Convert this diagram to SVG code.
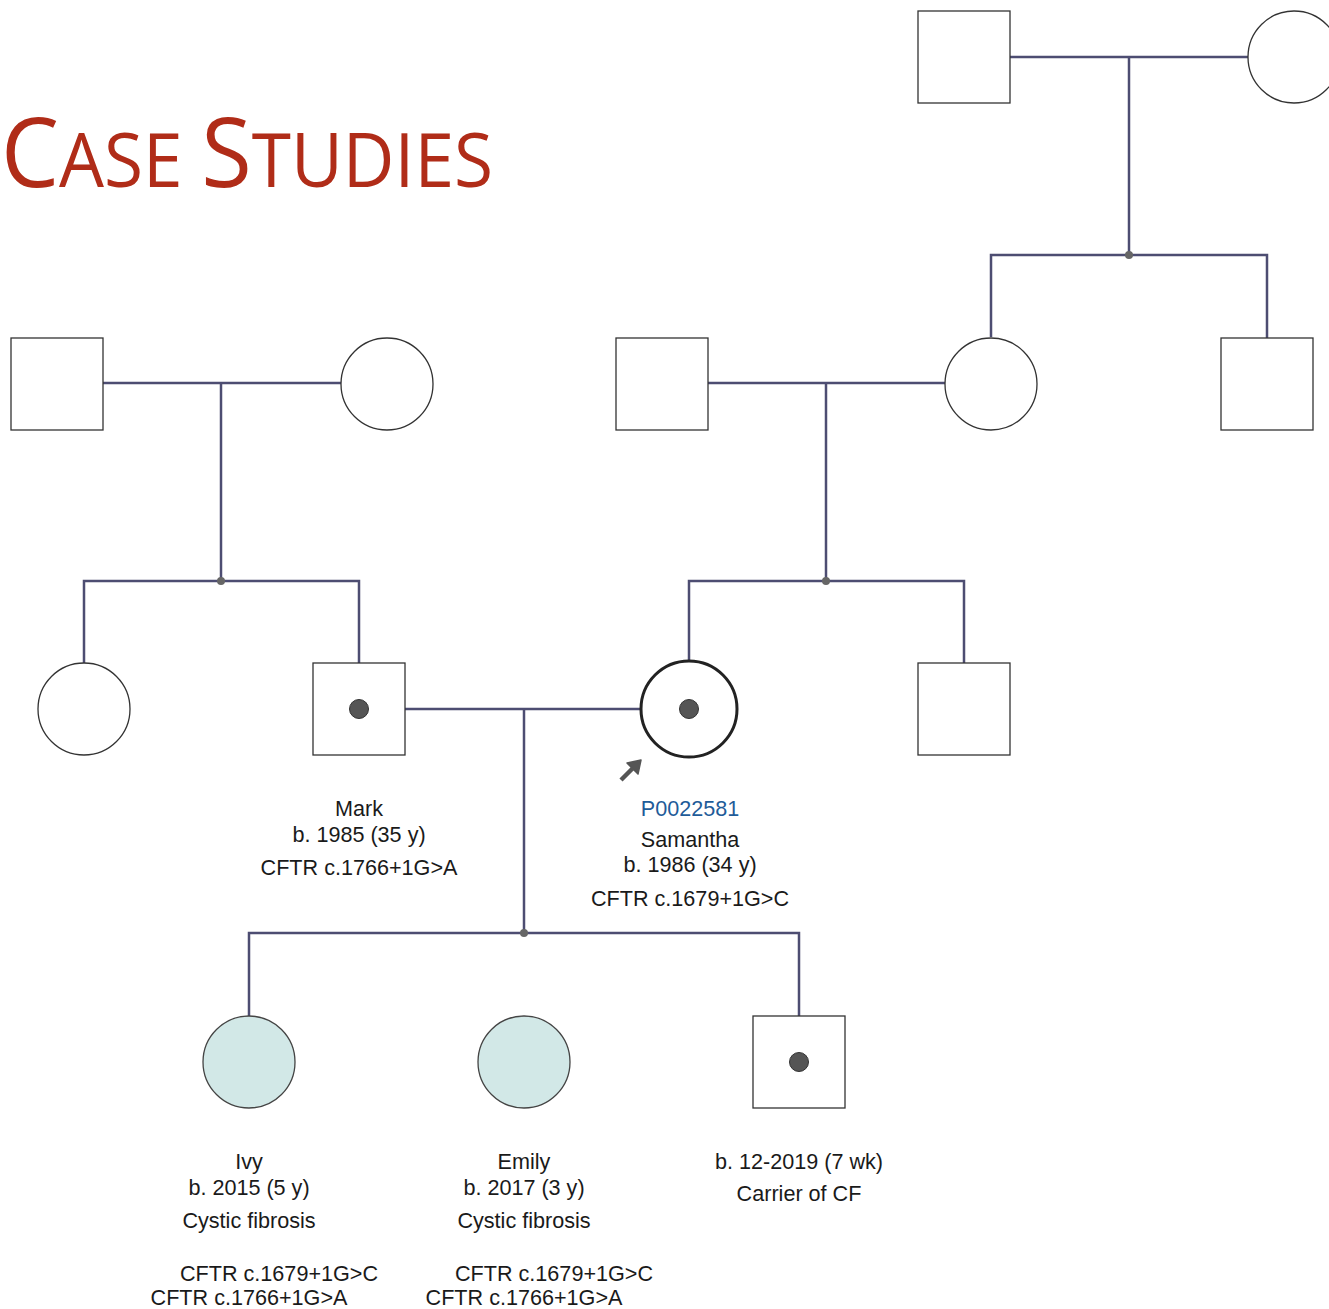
<svg xmlns="http://www.w3.org/2000/svg" width="1329" height="1309" viewBox="0 0 1329 1309">
<style>
.n{fill:#fff;stroke:#333;stroke-width:1.3}
.p{fill:#fff;stroke:#222;stroke-width:3}
.a{fill:#d2e8e7;stroke:#444;stroke-width:1.3}
.d{fill:#555;stroke:#333;stroke-width:1}
.l{fill:none;stroke:#4d4d72;stroke-width:2.5}
.j{fill:#666}
.t{font-family:"Liberation Sans",Arial,sans-serif;font-size:21.6px;fill:#1a1a1a;text-anchor:middle}
.id{fill:#1f5c99}
.title{font-family:"Open Sans","Liberation Sans",sans-serif;fill:#b02c18}
</style>
<rect width="1329" height="1309" fill="#fff"/>
<text class="title" x="1" y="187" textLength="492" lengthAdjust="spacingAndGlyphs"><tspan font-size="97">C</tspan><tspan font-size="75">ASE </tspan><tspan font-size="97">S</tspan><tspan font-size="75">TUDIES</tspan></text>
<g id="connectors">
<polyline class="l" points="1010,57 1248,57"/>
<polyline class="l" points="1129,57 1129,255"/>
<polyline class="l" points="991,337 991,255 1267,255 1267,338"/>
<polyline class="l" points="103,383 341,383"/>
<polyline class="l" points="221,383 221,581"/>
<polyline class="l" points="84,663 84,581 359,581 359,663"/>
<polyline class="l" points="708,383 945,383"/>
<polyline class="l" points="826,383 826,581"/>
<polyline class="l" points="689,661 689,581 964,581 964,663"/>
<polyline class="l" points="405,709 641,709"/>
<polyline class="l" points="524,709 524,933"/>
<polyline class="l" points="249,1016 249,933 799,933 799,1016"/>
<circle class="j" cx="1129" cy="255" r="4"/>
<circle class="j" cx="221" cy="581" r="4"/>
<circle class="j" cx="826" cy="581" r="4"/>
<circle class="j" cx="524" cy="933" r="4"/>
</g>
<g id="gp-father"><rect class="n" x="918" y="11" width="92" height="92"/></g>
<g id="gp-mother"><circle class="n" cx="1294" cy="57" r="46"/></g>
<g id="m-grandfather"><rect class="n" x="11" y="338" width="92" height="92"/></g>
<g id="m-grandmother"><circle class="n" cx="387" cy="384" r="46"/></g>
<g id="s-father"><rect class="n" x="616" y="338" width="92" height="92"/></g>
<g id="s-mother"><circle class="n" cx="991" cy="384" r="46"/></g>
<g id="s-uncle"><rect class="n" x="1221" y="338" width="92" height="92"/></g>
<g id="mark-sister"><circle class="n" cx="84" cy="709" r="46"/></g>
<g id="mark">
<rect class="n" x="313" y="663" width="92" height="92"/>
<circle class="d" cx="359" cy="709" r="9.5"/>
<text class="t" x="359" y="816">Mark</text>
<text class="t" x="359" y="842">b. 1985 (35 y)</text>
<text class="t" x="359" y="875">CFTR c.1766+1G&gt;A</text>
</g>
<g id="samantha">
<circle class="p" cx="689" cy="709" r="48"/>
<circle class="d" cx="689" cy="709" r="9.5"/>
<line x1="621" y1="780" x2="633" y2="768" stroke="#555" stroke-width="4.5"/>
<path d="M641,760 L638,774 L627,763 Z" fill="#555" stroke="#555" stroke-width="1.5" stroke-linejoin="round"/>
<text class="t id" x="690" y="816">P0022581</text>
<text class="t" x="690" y="847">Samantha</text>
<text class="t" x="690" y="872">b. 1986 (34 y)</text>
<text class="t" x="690" y="906">CFTR c.1679+1G&gt;C</text>
</g>
<g id="samantha-brother"><rect class="n" x="918" y="663" width="92" height="92"/></g>
<g id="ivy">
<circle class="a" cx="249" cy="1062" r="46"/>
<text class="t" x="249" y="1169">Ivy</text>
<text class="t" x="249" y="1195">b. 2015 (5 y)</text>
<text class="t" x="249" y="1228">Cystic fibrosis</text>
<text class="t" x="279" y="1281">CFTR c.1679+1G&gt;C</text>
<text class="t" x="249" y="1305">CFTR c.1766+1G&gt;A</text>
</g>
<g id="emily">
<circle class="a" cx="524" cy="1062" r="46"/>
<text class="t" x="524" y="1169">Emily</text>
<text class="t" x="524" y="1195">b. 2017 (3 y)</text>
<text class="t" x="524" y="1228">Cystic fibrosis</text>
<text class="t" x="554" y="1281">CFTR c.1679+1G&gt;C</text>
<text class="t" x="524" y="1305">CFTR c.1766+1G&gt;A</text>
</g>
<g id="son">
<rect class="n" x="753" y="1016" width="92" height="92"/>
<circle class="d" cx="799" cy="1062" r="9.5"/>
<text class="t" x="799" y="1169">b. 12-2019 (7 wk)</text>
<text class="t" x="799" y="1201">Carrier of CF</text>
</g>
</svg>
